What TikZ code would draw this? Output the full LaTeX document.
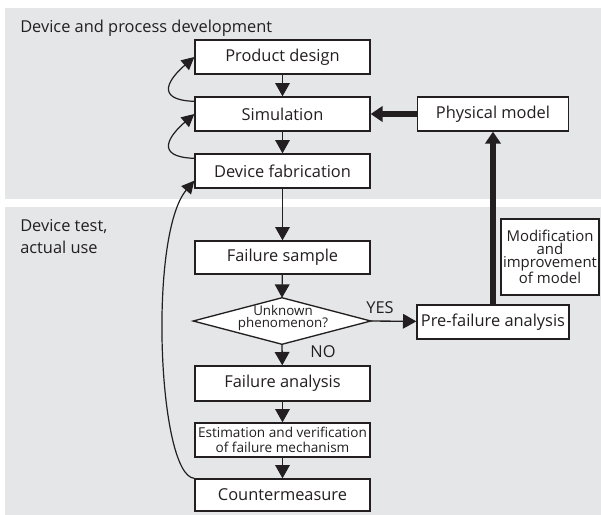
\documentclass[tikz,border=0pt]{standalone}
\usepackage{fontspec}
\setmainfont{Open Sans}
\usetikzlibrary{arrows.meta,calc}
\definecolor{panel}{HTML}{E5E6E8}
\definecolor{ink}{HTML}{231F20}
\begin{document}
\begin{tikzpicture}[x=0.75pt,y=-0.75pt,
  sz/.style 2 args={minimum width=#1*0.75pt, minimum height=#2*0.75pt},
  box/.style={draw=ink, fill=white, line width=1pt, inner sep=0pt, align=center, text=ink, font=\fontsize{12.3}{14}\selectfont},
  conn/.style={draw=ink, line width=1pt, -{Triangle[length=10pt,width=11pt]}},
  thick conn/.style={draw=ink, line width=5pt, -{Triangle[length=9pt,width=11.5pt]}},
  loop/.style={draw=ink, line width=0.9pt, -{Triangle[length=9.5pt,width=9.5pt]}},
  lbl/.style={inner sep=0pt, font=\fontsize{12.3}{17}\selectfont, text=ink}]
\useasboundingbox (0,0) rectangle (601,515);
\fill[panel] (5,8) rectangle (601,199);
\fill[panel] (5,207) rectangle (601,515);
\node[lbl, anchor=west] (t1) at (20,28) {Device and process development};
\node[lbl, anchor=west, align=left] (t2) at (20,236.5) {Device test,\\actual use};
\node[box, sz={175}{34}] (prod) at (282.5,57) {Product design};
\node[box, sz={175}{34}] (sim) at (282.5,114) {Simulation};
\node[box, sz={175}{34}] (fab) at (282.5,171) {Device fabrication};
\node[box, sz={151}{34}] (phys) at (493,114) {Physical model};
\node[box, sz={175}{33}] (sample) at (282.5,257.5) {Failure sample};
\node[inner sep=0pt, sz={177}{46}] (dia) at (282,321) {};
\draw[draw=ink, fill=white, line width=1pt] (dia.west) -- (dia.north) -- (dia.east) -- (dia.south) -- cycle;
\node[align=center, inner sep=0pt, text=ink, font=\fontsize{10}{9.6}\selectfont] (diat) at (283,318) {Unknown\\phenomenon?};
\node[box, sz={152}{34}] (pre) at (493,322) {Pre-failure analysis};
\node[box, sz={175}{35}] (fa) at (282.5,383.5) {Failure analysis};
\node[box, sz={175}{34}, font=\fontsize{10.2}{11.2}\selectfont] (est) at (282.5,440) {Estimation and verification\\of failure mechanism};
\node[box, sz={175}{32}] (cm) at (282.5,495) {Countermeasure};
\node[box, sz={98}{76}, font=\fontsize{11.2}{9.8}\selectfont] (mod) at (550,257) {Modification\\and\\improvement\\of model};
\draw[conn] (prod) -- (sim);
\draw[conn] (sim) -- (fab);
\draw[conn] (fab) -- (sample);
\draw[conn] (sample) -- (dia.north);
\draw[conn] (dia.south) -- (fa);
\draw[conn] (dia.east) -- (pre);
\draw[conn] (fa) -- (est);
\draw[conn] (est) -- (cm);
\node[lbl, anchor=center] (yes) at (380,308) {YES};
\node[lbl, anchor=center] (no) at (323,352) {NO};
\draw[thick conn] (pre.north) -- (phys.south);
\draw[thick conn] (phys.west) -- (sim.east);
\coordinate (s1) at ($(sim.north west)+(0,5)$);
\coordinate (s2) at ($(fab.north west)+(0,5)$);
\coordinate (fend) at ($(fab.south west)+(0,-8)$);
\draw[loop] (s1) .. controls (153,100) and (170,78) .. (prod.west);
\draw[loop] (s2) .. controls (153,157) and (170,135) .. (sim.west);
\draw[loop] (cm.north west) .. controls (158,476) and (148,235) .. (fend);
\end{tikzpicture}
\end{document}
